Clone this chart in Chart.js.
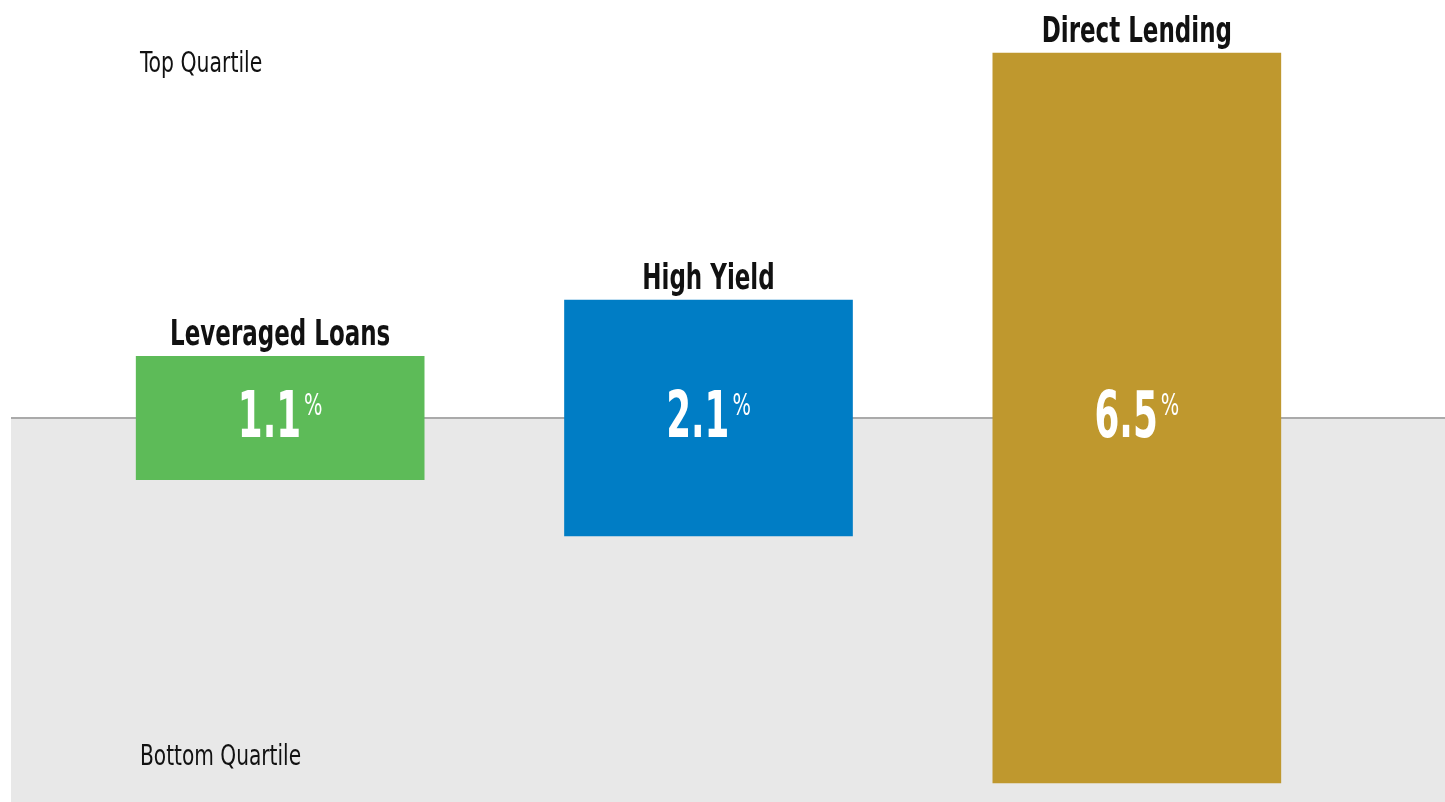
<!DOCTYPE html>
<html>
<head>
<meta charset="utf-8">
<script src="https://cdn.jsdelivr.net/npm/chart.js@4/dist/chart.umd.min.js"></script>
<style>
  html, body { margin: 0; padding: 0; background: #fff; }
  #wrap { width: 1445px; height: 802px; position: relative; }
</style>
</head>
<body>
<div id="wrap"><canvas id="chart"></canvas></div>
<script>
const categories = ['Leveraged Loans', 'High Yield', 'Direct Lending'];
const dispersion = [1.1, 2.1, 6.5];
const barColors = ['#5dbb58', '#007dc5', '#bf982e'];
const bandLabels = ['Top Quartile', 'Bottom Quartile'];

const FONT = '"Liberation Sans Narrow", "DejaVu Sans Condensed", "Roboto", sans-serif';

// bars float around the median line (0), spread = dispersion
const ranges = dispersion.map(v => [-v / 2, v / 2]);

// draw text squeezed horizontally (the original uses a condensed face)
function squeezed(ctx, text, x, y, font, sx, align) {
  ctx.save();
  ctx.font = font;
  const w = ctx.measureText(text).width * sx;
  let left = x;
  if (align === 'center') left = x - w / 2;
  ctx.translate(left, y);
  ctx.scale(sx, 1);
  ctx.textAlign = 'left';
  ctx.textBaseline = 'alphabetic';
  ctx.fillText(text, 0, 0);
  ctx.restore();
  return w;
}

const bandPlugin = {
  id: 'band',
  beforeDatasetsDraw(chart) {
    const ctx = chart.ctx;
    const y0 = chart.scales.y.getPixelForValue(0);
    ctx.save();
    ctx.fillStyle = '#e8e8e8';
    ctx.fillRect(11, y0, chart.width - 11, chart.height - y0);
    ctx.strokeStyle = '#aaaaaa';
    ctx.lineWidth = 2;
    ctx.beginPath();
    ctx.moveTo(11, y0);
    ctx.lineTo(chart.width, y0);
    ctx.stroke();

    ctx.fillStyle = '#111';
    squeezed(ctx, bandLabels[0], 140, 72, '28px ' + FONT, 0.81, 'left');
    squeezed(ctx, bandLabels[1], 140, 765, '28px ' + FONT, 0.8, 'left');
    ctx.restore();
  }
};

const labelPlugin = {
  id: 'labels',
  afterDatasetsDraw(chart) {
    const ctx = chart.ctx;
    const meta = chart.getDatasetMeta(0);
    const y0 = chart.scales.y.getPixelForValue(0);
    meta.data.forEach((bar, i) => {
      const top = Math.min(bar.y, bar.base);

      // category name above the bar
      ctx.fillStyle = '#111';
      squeezed(ctx, categories[i], bar.x, top - 11, 'bold 36px ' + FONT, 0.71, 'center');

      // value with small superscript %
      const num = dispersion[i].toFixed(1);
      const numFont = 'bold 64px ' + FONT;
      const pctFont = '30px ' + FONT;
      const nsx = 0.62, psx = 0.72, gap = 3;
      ctx.save();
      ctx.font = numFont;
      const numW = ctx.measureText(num).width * nsx;
      ctx.font = pctFont;
      const pctW = ctx.measureText('%').width * psx;
      ctx.restore();
      const startX = bar.x - (numW + gap + pctW) / 2;
      ctx.fillStyle = '#fff';
      squeezed(ctx, num, startX, y0 + 19, numFont, nsx, 'left');
      squeezed(ctx, '%', startX + numW + gap, y0 - 3, pctFont, psx, 'left');
    });
  }
};

new Chart(document.getElementById('chart'), {
  type: 'bar',
  data: {
    labels: categories,
    datasets: [{
      data: ranges,
      backgroundColor: barColors,
      borderWidth: 0,
      borderSkipped: false,
      barThickness: 288
    }]
  },
  options: {
    responsive: true,
    maintainAspectRatio: false,
    animation: false,
    layout: { padding: { left: 66, right: 94, top: 0, bottom: 0 } },
    plugins: {
      legend: { display: false },
      tooltip: { enabled: false }
    },
    scales: {
      x: { display: false, offset: true, grid: { display: false } },
      y: { display: false, min: -3.419, max: 3.722, grid: { display: false } }
    }
  },
  plugins: [bandPlugin, labelPlugin]
});
</script>
</body>
</html>
